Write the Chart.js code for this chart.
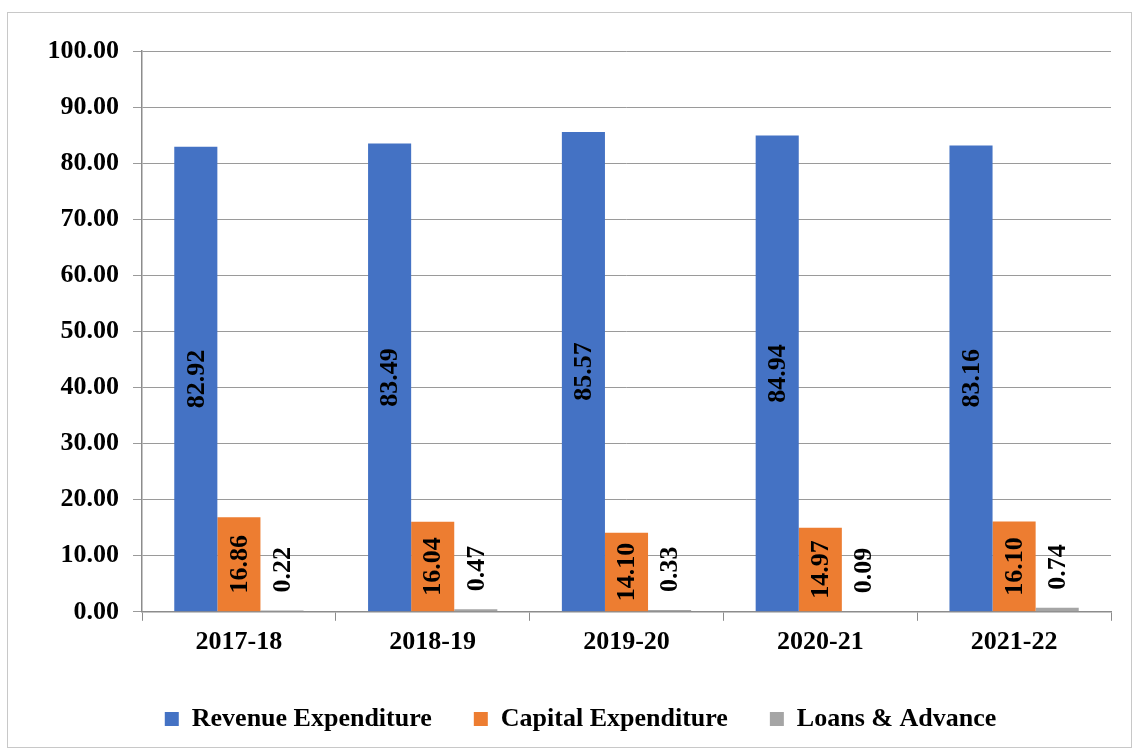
<!DOCTYPE html>
<html>
<head>
<meta charset="utf-8">
<title>Expenditure share</title>
<script src="https://cdn.jsdelivr.net/npm/chart.js@4.4.0/dist/chart.umd.min.js"></script>
<style>
  body { margin: 0; background: #fff; }
  #wrap {
    position: absolute; left: 7px; top: 12px;
    width: 1125px; height: 736px;
    border: 1px solid #c8c8c8; box-sizing: border-box;
  }
  canvas { display: block; }
</style>
</head>
<body>
<div id="wrap"><canvas id="expChart" width="1123" height="734"></canvas></div>
<script>
// share of total expenditure (%) by year
const years = ['2017-18', '2018-19', '2019-20', '2020-21', '2021-22'];
const revenueExp = [82.92, 83.49, 85.57, 84.94, 83.16];
const capitalExp = [16.86, 16.04, 14.10, 14.97, 16.10];
const loansAdv = [0.22, 0.47, 0.33, 0.09, 0.74];
const yTicks = [0, 10, 20, 30, 40, 50, 60, 70, 80, 90, 100];

const FONT = '"Liberation Serif", "Times New Roman", serif';

// rotated value labels on each bar
const barLabels = {
    id: 'barLabels',
    afterLayout(chart) {
        // nudge the legend a little to the right
        chart.legend.left += 42;
    },
    afterDatasetsDraw(chart) {
        const ctx = chart.ctx;
        ctx.save();
        ctx.fillStyle = '#000';
        ctx.font = 'bold 26px ' + FONT;
        ctx.textBaseline = 'middle';
        chart.data.datasets.forEach((ds, i) => {
            const meta = chart.getDatasetMeta(i);
            meta.data.forEach((bar, j) => {
                const text = ds.data[j].toFixed(2);
                ctx.save();
                if (i < 2) {
                    ctx.translate(bar.x, (bar.y + bar.base) / 2);
                    ctx.textAlign = 'center';
                } else {
                    ctx.translate(bar.x, bar.y - 18);
                    ctx.textAlign = 'left';
                }
                ctx.rotate(-Math.PI / 2);
                ctx.fillText(text, 0, 1);
                ctx.restore();
            });
        });
        ctx.restore();
    }
};

new Chart(document.getElementById('expChart'), {
    type: 'bar',
    data: {
        labels: years,
        datasets: [
            { label: 'Revenue Expenditure', data: revenueExp, backgroundColor: '#4472C4' },
            { label: 'Capital Expenditure', data: capitalExp, backgroundColor: '#ED7D31' },
            { label: 'Loans & Advance', data: loansAdv, backgroundColor: '#A5A5A5' }
        ]
    },
    options: {
        responsive: false,
        animation: false,
        layout: { padding: { top: 38, right: 20, left: 0, bottom: 5 } },
        datasets: {
            bar: { categoryPercentage: 0.667, barPercentage: 1.0 }
        },
        scales: {
            x: {
                grid: { display: true, drawOnChartArea: false, offset: true, color: '#8c8c8c', tickLength: 9 },
                border: { color: '#8c8c8c', width: 1.5 },
                ticks: { color: '#000', font: { family: FONT, size: 26, weight: 'bold' }, padding: 6 }
            },
            y: {
                min: 0, max: 100,
                afterBuildTicks(axis) { axis.ticks = yTicks.map(v => ({ value: v })); },
                afterFit(axis) { axis.width = 134; },
                grid: { color: '#9a9a9a', tickLength: 9, lineWidth: 1 },
                border: { color: '#8c8c8c', width: 1.5 },
                ticks: {
                    color: '#000', padding: 14,
                    font: { family: FONT, size: 26, weight: 'bold' },
                    callback: v => v.toFixed(2)
                }
            }
        },
        plugins: {
            legend: {
                position: 'bottom',
                labels: {
                    color: '#000', boxWidth: 14, boxHeight: 14, padding: 42,
                    font: { family: FONT, size: 26, weight: 'bold' }
                }
            },
            tooltip: { enabled: false }
        }
    },
    plugins: [barLabels]
});
</script>
</body>
</html>
